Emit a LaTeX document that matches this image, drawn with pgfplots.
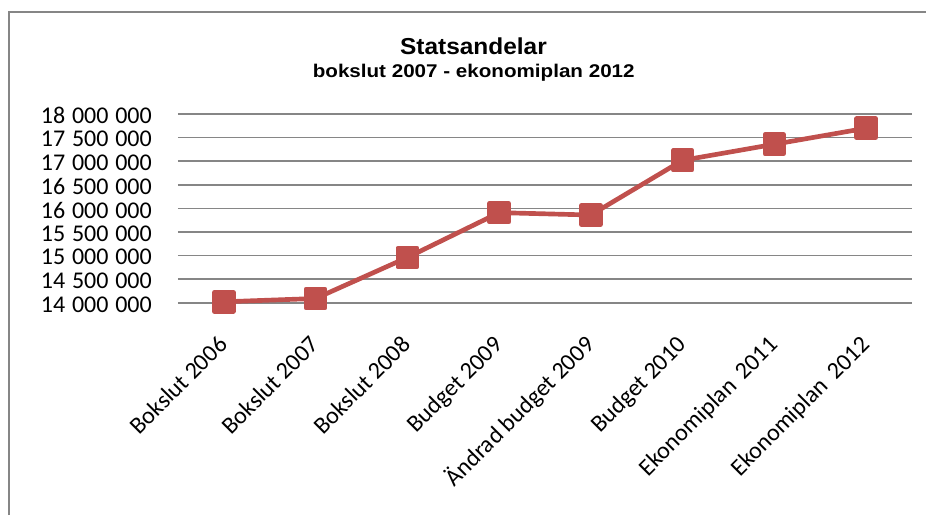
\documentclass[border=0pt]{standalone}
\usepackage{fontspec}
\setmainfont{Carlito}
\newfontfamily\titlefont[FakeStretch=1.06]{Liberation Sans}
\newfontfamily\subtitlefont[FakeStretch=1.12]{Liberation Sans}
\usepackage{pgfplots}
\pgfplotsset{compat=1.18}
\definecolor{serred}{HTML}{C0504D}
\definecolor{gridgray}{HTML}{868686}
\newcommand\ts{\hspace{0.28em}}
\begin{document}
\begin{tikzpicture}
\useasboundingbox (0,0) rectangle (694.5pt,386.25pt);
\draw[gridgray, line width=1.2pt] (6.75pt,0) -- (6.75pt,377.25pt) -- (694.5pt,377.25pt);
\begin{axis}[at={(133.5pt,159.2pt)}, anchor=south west, scale only axis,
  width=550.5pt, height=141.5pt,
  xmin=-0.5, xmax=7.5, ymin=14000000, ymax=18000000,
  ytick={14000000,14500000,15000000,15500000,16000000,16500000,17000000,17500000,18000000},
  yticklabels={14\ts000\ts000, 14\ts500\ts000, 15\ts000\ts000, 15\ts500\ts000, 16\ts000\ts000, 16\ts500\ts000, 17\ts000\ts000, 17\ts500\ts000, 18\ts000\ts000},
  xtick={0,1,2,3,4,5,6,7},
  xticklabels={Bokslut 2006, Bokslut 2007, Bokslut 2008, Budget 2009, Ändrad budget 2009, Budget 2010, Ekonomiplan\hspace{0.4em}2011, Ekonomiplan\hspace{0.4em}2012},
  axis line style={draw=none}, major tick length=0pt,
  ymajorgrids, grid style={gridgray, line width=1.2pt},
  scaled y ticks=false,
  yticklabel style={anchor=east, inner sep=0pt, xshift=-19.5pt, yshift=-1.2pt},
  tick label style={font=\fontsize{18}{21.6}\selectfont},
  xticklabel style={xshift=3.75pt, yshift=-32.5pt, rotate=45, anchor=base east, inner sep=0pt},
  clip=false,
]
\addplot[serred, line width=3.5pt, line join=round, mark=square*, mark size=7.1pt,
  mark options={draw=none, fill=serred}] coordinates {
  (0,14020000) (1,14090000) (2,14960000) (3,15910000)
  (4,15860000) (5,17020000) (6,17360000) (7,17700000)
};
\end{axis}
\node[anchor=base] at (355.1pt,345pt) {\titlefont\bfseries\fontsize{17.3}{20}\selectfont Statsandelar};
\node[anchor=base] at (355.3pt,327.75pt) {\subtitlefont\bfseries\fontsize{13.8}{16}\selectfont bokslut 2007 - ekonomiplan 2012};
\end{tikzpicture}
\end{document}
